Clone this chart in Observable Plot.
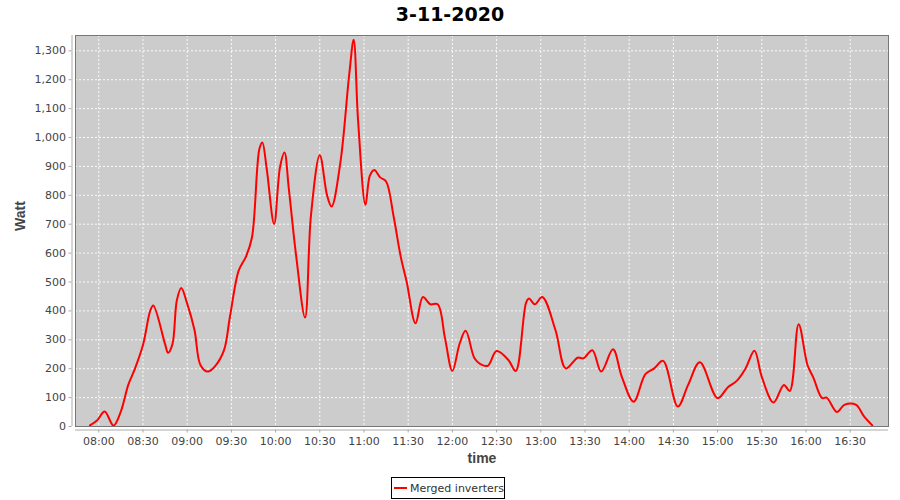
<!DOCTYPE html>
<html><head><meta charset="utf-8">
<script src="https://cdn.jsdelivr.net/npm/d3@7"></script>
<script src="https://cdn.jsdelivr.net/npm/@observablehq/plot@0.6"></script>
<style>
body{margin:0;background:#fff;width:900px;height:500px;overflow:hidden;font-family:"DejaVu Sans",sans-serif;}
#title{height:30px;line-height:29px;text-align:center;font-weight:bold;font-size:19px;color:#000;}
#legend{margin-left:391px;margin-top:2px;width:114px;height:22px;box-sizing:border-box;border:1px solid #000;display:flex;align-items:center;font-size:11px;color:#333;white-space:nowrap;}
.swatch{display:inline-block;width:16px;height:2px;background:#ff0000;margin-left:2px;margin-right:3px;}
</style></head>
<body>
<div id="title">3-11-2020</div>
<div id="chart"></div>
<div id="legend"><span class="swatch"></span><span>Merged inverters</span></div>
<script>
const times = ["07:54","07:59","08:04","08:10","08:15","08:20","08:24","08:30","08:35","08:37",
  "08:45","08:47","08:50","08:53","08:56","09:00","09:05","09:09","09:14","09:19",
  "09:25","09:29","09:35","09:40","09:44","09:49","09:51","09:54","09:59","10:03",
  "10:06","10:09","10:14","10:20","10:24","10:30","10:35","10:38","10:44","10:50",
  "10:53","10:56","11:01","11:04","11:07","11:11","11:15","11:20","11:25","11:29",
  "11:35","11:40","11:45","11:50","11:55","12:00","12:05","12:09","12:15","12:19",
  "12:24","12:30","12:38","12:43","12:50","12:52","12:56","13:01","13:10","13:17",
  "13:25","13:29","13:35","13:41","13:49","13:55","14:03","14:11","14:17","14:23",
  "14:33","14:40","14:48","15:00","15:07","15:13","15:19","15:25","15:30","15:38",
  "15:45","15:49","15:55","16:01","16:05","16:11","16:14","16:21","16:26","16:34",
  "16:39","16:45"];
const watts = [4,22,52,3,52,144,193,282,402,419,
  285,255,285,437,479,425,333,213,190,209,
  264,379,540,589,655,960,983,891,701,897,
  948,822,589,377,730,939,799,761,914,1219,
  1338,1058,767,868,888,862,848,730,586,500,
  357,448,423,423,305,192,288,331,236,216,
  210,261,230,192,428,443,423,448,333,201,
  238,236,264,190,267,172,86,181,201,227,
  69,144,222,98,136,158,201,262,172,83,
  144,123,354,213,169,98,100,50,75,75,
  38,4];
const xTickLabels = ["08:00","08:30","09:00","09:30","10:00","10:30","11:00","11:30","12:00",
  "12:30","13:00","13:30","14:00","14:30","15:00","15:30","16:00","16:30"];
const yTicks = [0,100,200,300,400,500,600,700,800,900,1000,1100,1200,1300];
const xDomain = ["07:44","16:56"];
const yDomain = [0, 1353];

const toMin = s => { const [h, m] = s.split(":").map(Number); return h * 60 + m; };
const data = times.map((t, i) => ({t: toMin(t), v: watts[i]}));
const xTicks = xTickLabels.map(toMin);
const xd = [toMin(xDomain[0]) + 0.2, toMin(xDomain[1])];
const fmtTime = m => String(Math.floor(m / 60)).padStart(2, "0") + ":" + String(m % 60).padStart(2, "0");

const chart = Plot.plot({
  width: 900,
  height: 445,
  marginTop: 5,
  marginBottom: 49,
  marginLeft: 75,
  marginRight: 12,
  style: {fontFamily: "DejaVu Sans", fontSize: "11px", background: "white", color: "#444"},
  x: {type: "linear", domain: xd},
  y: {domain: yDomain},
  marks: [
    Plot.frame({fill: "#cccccc", stroke: null}),
    Plot.gridX(xTicks, {stroke: "#ffffff", strokeOpacity: 0.9, strokeDasharray: "2,2"}),
    Plot.gridY(yTicks, {stroke: "#ffffff", strokeOpacity: 0.9, strokeDasharray: "2,2"}),
    Plot.line(data, {x: "t", y: "v", stroke: "#ff0000", strokeWidth: 2, curve: "catmull-rom"}),
    Plot.frame({stroke: "#777777", strokeWidth: 1}),
    Plot.ruleX([xd[0]], {dx: -3.5, stroke: "#aaaaaa"}),
    Plot.ruleY([yDomain[0]], {dy: 3.5, stroke: "#aaaaaa"}),
    Plot.axisY(yTicks, {anchor: "left", tickSize: 3, tickPadding: 3, dx: -3.5, stroke: "#aaaaaa", fill: "#444", tickFormat: d3.format(","), label: null}),
    Plot.axisX(xTicks, {anchor: "bottom", tickSize: 3, tickPadding: 4, dy: 3.5, stroke: "#aaaaaa", fill: "#444", tickFormat: fmtTime, label: null}),
    Plot.text(["time"], {frameAnchor: "bottom", dy: 36, text: d => d, fontWeight: "bold", fontSize: 14, fontFamily: "Liberation Sans", fill: "#444"}),
    Plot.text(["Watt"], {frameAnchor: "left", dx: -54.5, rotate: -90, text: d => d, fontWeight: "bold", fontSize: 14, fontFamily: "Liberation Sans", fill: "#444"})
  ]
});
document.getElementById("chart").appendChild(chart);
</script>
</body></html>
